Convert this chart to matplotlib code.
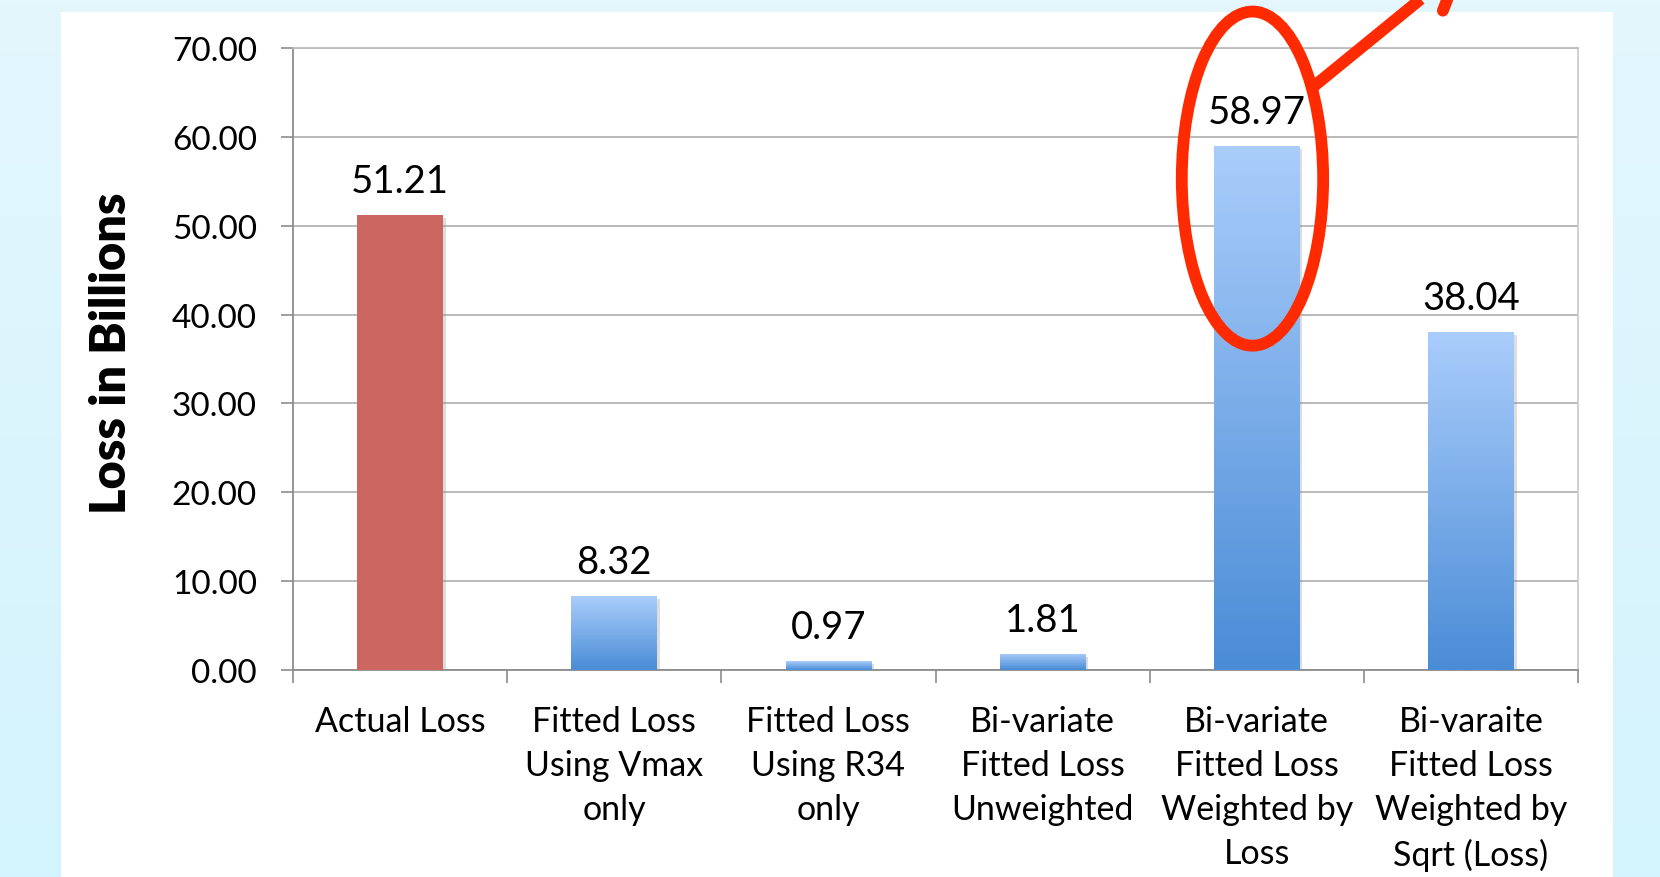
import numpy as np
import matplotlib
matplotlib.use("Agg")
import matplotlib.pyplot as plt
from matplotlib.patches import Rectangle, Ellipse
from matplotlib.colors import LinearSegmentedColormap
import matplotlib.patheffects as pe

plt.rcParams['font.family'] = ['Lato', 'DejaVu Sans']

categories = [
    "Actual Loss",
    "Fitted Loss\nUsing Vmax\nonly",
    "Fitted Loss\nUsing R34\nonly",
    "Bi-variate\nFitted Loss\nUnweighted",
    "Bi-variate\nFitted Loss\nWeighted by\nLoss",
    "Bi-varaite\nFitted Loss\nWeighted by\nSqrt (Loss)",
]
losses = [51.21, 8.32, 0.97, 1.81, 58.97, 38.04]
y_ticks = [0, 10, 20, 30, 40, 50, 60, 70]

W, H = 1660, 878
fig = plt.figure(figsize=(W / 100, H / 100), dpi=100)

# slide background: pale cyan gradient with a white panel
bg = fig.add_axes([0, 0, 1, 1], zorder=-10)
bg.set_axis_off()
grad = np.linspace(0, 1, 256).reshape(-1, 1)
bg_cmap = LinearSegmentedColormap.from_list("bg", ["#E3F7FC", "#D3F3FE"])
bg.imshow(grad, cmap=bg_cmap, aspect="auto", extent=(0, 1, 0, 1), origin="upper")
bg.add_patch(Rectangle((61 / W, 0), (1613 - 61) / W, 1 - 13 / H,
                       facecolor="white", edgecolor="none"))
bg.set_xlim(0, 1)
bg.set_ylim(0, 1)

ax = fig.add_axes([293 / W, 1 - 671 / H, (1578 - 293) / W, (671 - 49) / H])
ax.set_facecolor("white")

x = np.arange(len(categories))
colors = ["#CC6660"] + ["#5A97DC"] * (len(categories) - 1)
bars = ax.bar(x, losses, width=0.40, color=colors, zorder=3,
              path_effects=[pe.SimplePatchShadow(offset=(2, -2),
                                                 shadow_rgbFace="#909090",
                                                 alpha=0.3),
                            pe.Normal()])

blue_cmap = LinearSegmentedColormap.from_list("bar", ["#4A8CD6", "#AACDFB"])
for i, b in enumerate(bars):
    if i == 0:
        continue
    im = ax.imshow(grad[::-1], cmap=blue_cmap, aspect="auto", origin="upper",
                   extent=(b.get_x(), b.get_x() + b.get_width(), 0, b.get_height()),
                   zorder=4)
    im.set_clip_path(b)

for b, v in zip(bars, losses):
    ax.annotate(f"{v:.2f}", (b.get_x() + b.get_width() / 2, v),
                xytext=(0, 11.5), textcoords="offset points",
                ha="center", va="bottom", fontsize=27.5, color="black", zorder=6)

ax.set_xlim(-0.5, len(categories) - 0.5)
ax.set_ylim(0, 70)
ax.set_yticks(y_ticks)
ax.set_yticklabels([f"{t:.2f}" for t in y_ticks])
ax.set_xticks(x)
ax.set_xticklabels(categories, fontsize=24.5, linespacing=1.47, va="top")
ax.set_xticks(np.arange(-0.5, len(categories)), minor=True)
ax.tick_params(axis="x", which="major", length=0, pad=25)
ax.tick_params(axis="x", which="minor", length=9, width=1.2, color="#8C8C8C",
               direction="out")
ax.tick_params(axis="y", length=9, width=1.2, color="#8C8C8C", labelsize=24,
               pad=17)

ax.grid(axis="y", color="#A6A6A6", linewidth=1.1, zorder=0)
ax.set_axisbelow(True)
for s in ("left", "bottom"):
    ax.spines[s].set_color("#8C8C8C")
    ax.spines[s].set_linewidth(1.3)
ax.spines["right"].set_color("#C8C8C8")
ax.spines["right"].set_linewidth(1.2)
ax.spines["top"].set_color("#BDBDBD")
ax.spines["top"].set_linewidth(1.3)

fig.text(111 / W, 1 - 353 / H, "Loss in Billions", rotation=90,
         ha="center", va="center", fontsize=35, fontweight="heavy")

# red highlight around the weighted-by-loss bar
red = "#FF2A00"
ax.add_patch(Ellipse((3.98, 55.3), 0.66, 37.6, fill=False, edgecolor=red,
                     linewidth=8.5, zorder=8, clip_on=False))
ax.plot([4.262, 4.948], [65.6, 79.1], color=red, linewidth=8.5,
        solid_capstyle="butt", zorder=8, clip_on=False)
ax.plot([4.948, 4.869], [79.1, 74.2], color=red, linewidth=8.5,
        solid_capstyle="round", zorder=8, clip_on=False)

fig.savefig("out.png", dpi=100)
